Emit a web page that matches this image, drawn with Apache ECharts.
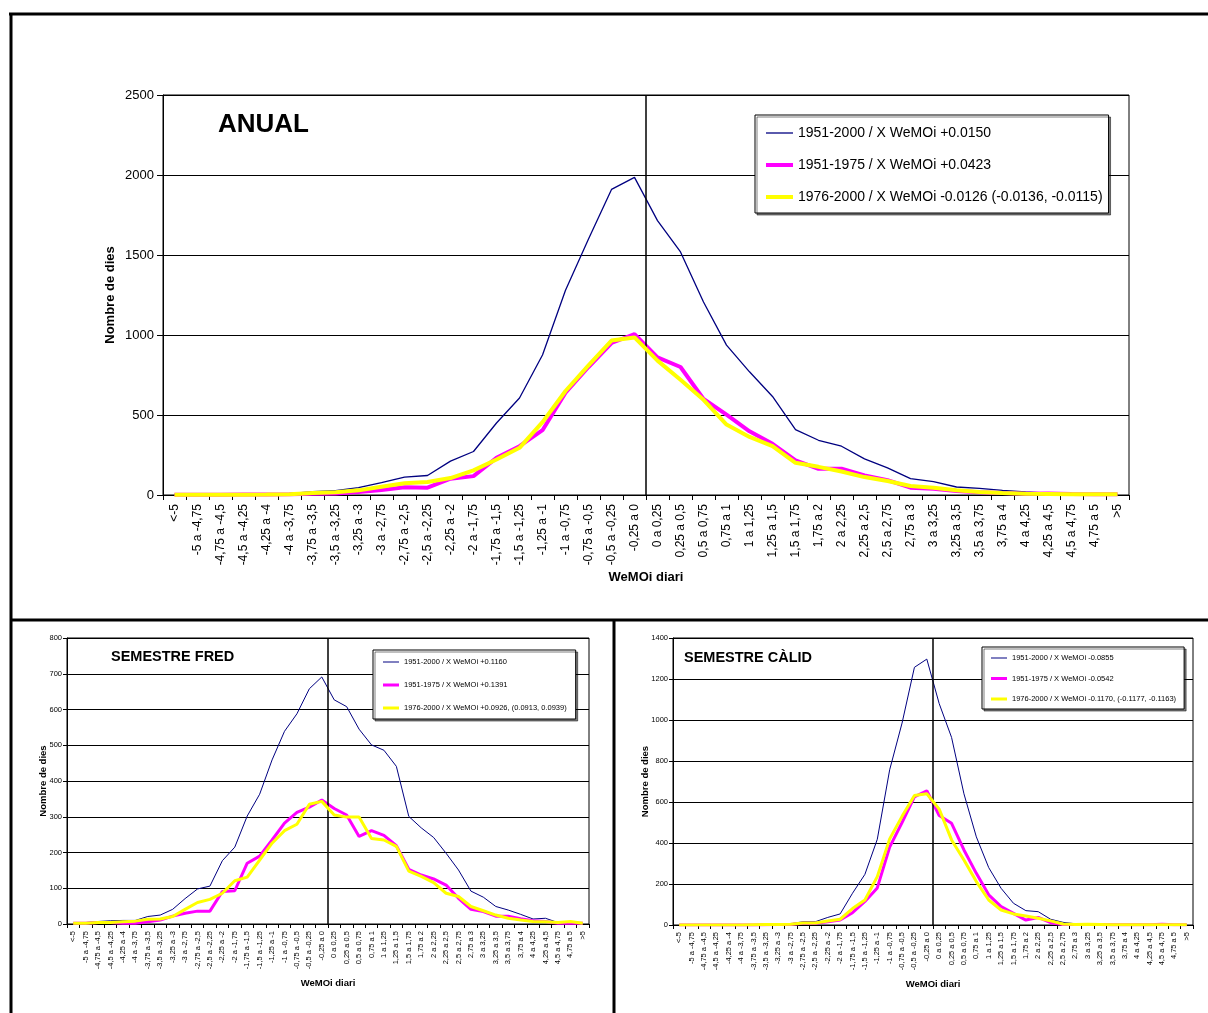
<!DOCTYPE html>
<html>
<head>
<meta charset="utf-8">
<title>WeMOi diari</title>
<script src="https://cdn.jsdelivr.net/npm/echarts@6/dist/echarts.min.js"></script>
<style>
  html, body { margin: 0; padding: 0; background: #fff; }
  #chart { width: 1208px; height: 1013px; }
</style>
</head>
<body>
<div id="chart"></div>
<script>
// Daily WeMOi class bins (x axis)
const categories = ['<-5', '-5 a -4,75', '-4,75 a -4,5', '-4,5 a -4,25', '-4,25 a -4', '-4 a -3,75',
  '-3,75 a -3,5', '-3,5 a -3,25', '-3,25 a -3', '-3 a -2,75', '-2,75 a -2,5', '-2,5 a -2,25',
  '-2,25 a -2', '-2 a -1,75', '-1,75 a -1,5', '-1,5 a -1,25', '-1,25 a -1', '-1 a -0,75',
  '-0,75 a -0,5', '-0,5 a -0,25', '-0,25 a 0', '0 a 0,25', '0,25 a 0,5', '0,5 a 0,75',
  '0,75 a 1', '1 a 1,25', '1,25 a 1,5', '1,5 a 1,75', '1,75 a 2', '2 a 2,25', '2,25 a 2,5',
  '2,5 a 2,75', '2,75 a 3', '3 a 3,25', '3,25 a 3,5', '3,5 a 3,75', '3,75 a 4', '4 a 4,25',
  '4,25 a 4,5', '4,5 a 4,75', '4,75 a 5', '>5'];

// First bin on the positive side: the zero line sits on its left edge
const zeroBin = categories.indexOf('0 a 0,25');

// ANUAL – number of days per bin
const anual1951_2000 = [3, 3, 4, 4, 5, 8, 21, 27, 46, 77, 112, 122, 212, 272, 450, 606, 875, 1280, 1600, 1910, 1985,
  1715, 1519, 1206, 937, 770, 616, 409, 342, 305, 226, 170, 102, 83, 50, 41, 29, 19, 12, 8, 6, 4];
const anual1951_1975 = [2, 2, 2, 3, 3, 4, 8, 10, 19, 31, 48, 46, 102, 118, 232, 305, 405, 640, 800, 950, 1005,
  860, 800, 600, 502, 398, 320, 216, 164, 164, 122, 93, 46, 39, 25, 17, 12, 8, 10, 6, 4, 4];
const anual1976_2000 = [2, 2, 2, 2, 3, 5, 13, 17, 29, 52, 73, 81, 106, 154, 222, 295, 455, 650, 810, 965, 985,
  840, 720, 595, 440, 363, 305, 201, 176, 147, 112, 87, 56, 46, 29, 19, 12, 8, 6, 4, 4, 4];

// SEMESTRE FRED – number of days per bin
const fred1951_2000 = [2, 4, 7, 9, 10, 10, 21, 25, 41, 71, 98, 106, 177, 215, 302, 363, 459, 539, 588, 658, 691,
  627, 608, 545, 501, 486, 441, 301, 269, 242, 198, 151, 92, 75, 49, 39, 27, 14, 16, 4, 3, 2];
const fred1951_1975 = [2, 2, 4, 4, 2, 2, 6, 11, 22, 30, 36, 36, 91, 93, 170, 190, 235, 282, 312, 327, 347,
  323, 305, 245, 261, 248, 219, 153, 137, 126, 109, 72, 41, 35, 22, 22, 15, 9, 7, 2, 2, 2];
const fred1976_2000 = [2, 2, 4, 4, 6, 8, 13, 14, 21, 41, 60, 69, 86, 121, 131, 179, 226, 261, 279, 335, 343,
  305, 299, 299, 239, 235, 217, 148, 133, 116, 86, 77, 49, 37, 25, 16, 11, 7, 6, 4, 7, 2];

// SEMESTRE CÀLID – number of days per bin
const calid1951_2000 = [0, 0, 0, 0, 0, 1, 2, 3, 5, 6, 16, 16, 37, 54, 155, 247, 418, 757, 985, 1257, 1297,
  1080, 915, 640, 430, 280, 179, 106, 70, 65, 28, 13, 6, 5, 3, 2, 1, 1, 1, 1, 0, 0];
const calid1951_1975 = [0, 0, 0, 0, 0, 0, 0, 1, 2, 2, 8, 8, 16, 24, 60, 115, 181, 380, 500, 625, 655,
  534, 496, 366, 252, 147, 90, 57, 24, 37, 11, 2, 2, 3, 2, 1, 1, 1, 1, 4, 1, 1];
const calid1976_2000 = [0, 0, 0, 0, 0, 0, 1, 2, 3, 4, 10, 10, 20, 28, 80, 122, 236, 420, 530, 632, 640,
  565, 415, 317, 212, 122, 73, 54, 44, 33, 20, 5, 3, 4, 3, 1, 1, 1, 1, 1, 1, 1];

// Legend texts
const namesAnual = ['1951-2000 / X WeMOi +0.0150', '1951-1975 / X WeMOi +0.0423',
  '1976-2000 / X WeMOi -0.0126 (-0.0136, -0.0115)'];
const namesFred = ['1951-2000 / X WeMOi +0.1160', '1951-1975 / X WeMOi +0.1391',
  '1976-2000 / X WeMOi +0.0926, (0.0913, 0.0939)'];
const namesCalid = ['1951-2000 / X WeMOi -0.0855', '1951-1975 / X WeMOi -0.0542',
  '1976-2000 / X WeMOi -0.1170, (-0.1177, -0.1163)'];

// Value axis ranges
const yAnual = { max: 2500, step: 500 };
const yFred = { max: 800, step: 100 };
const yCalid = { max: 1400, step: 200 };

const SANS = "'Liberation Sans', Arial, sans-serif";
const LINE_COLORS = ['#000080', '#FF00FF', '#FFFF00'];

const panels = [
  {
    title: 'ANUAL', titlePos: { left: 218, top: 112 }, titleSize: 26,
    grid: { left: 163, top: 95, width: 966, height: 400 },
    y: yAnual, data: [anual1951_2000, anual1951_1975, anual1976_2000], names: namesAnual,
    widths: [1.3, 4, 4],
    xLabelSize: 12, xLabelMargin: 9, xTick: 5, yLabelSize: 13, yLabelMargin: 9, yTick: 6,
    nameSize: 13, yNameGap: 46, xNameGap: 76,
    legend: { left: 755, top: 115, itemWidth: 27, itemHeight: 4, itemGap: 16, lineHeight: 16,
      fontSize: 14, padding: [10, 6, 8, 11] }
  },
  {
    title: 'SEMESTRE FRED', titlePos: { left: 111, top: 650 }, titleSize: 14.5,
    grid: { left: 67, top: 638, width: 522, height: 286 },
    y: yFred, data: [fred1951_2000, fred1951_1975, fred1976_2000], names: namesFred,
    widths: [1, 3, 3],
    xLabelSize: 7.5, xLabelMargin: 7, xTick: 4, yLabelSize: 7.5, yLabelMargin: 5, yTick: 4,
    nameSize: 9.5, yNameGap: 19, xNameGap: 54,
    legend: { left: 373, top: 650, itemWidth: 16, itemHeight: 3, itemGap: 12, lineHeight: 11,
      fontSize: 7.5, padding: [6.5, 9, 5.5, 10] }
  },
  {
    title: 'SEMESTRE CÀLID', titlePos: { left: 684, top: 651 }, titleSize: 14.5,
    grid: { left: 673, top: 638, width: 520, height: 287 },
    y: yCalid, data: [calid1951_2000, calid1951_1975, calid1976_2000], names: namesCalid,
    widths: [1, 3, 3],
    xLabelSize: 7.5, xLabelMargin: 7, xTick: 4, yLabelSize: 7.5, yLabelMargin: 5, yTick: 4,
    nameSize: 9.5, yNameGap: 23, xNameGap: 54,
    legend: { left: 982, top: 647, itemWidth: 16, itemHeight: 3, itemGap: 9.5, lineHeight: 11,
      fontSize: 7.5, padding: [5.5, 8, 4.5, 9] }
  }
];

// Legend sample: a thin bar for the thin series, a full bar for the thick ones
function legendIcon(p, k) {
  const w = p.legend.itemWidth, h = p.legend.itemHeight;
  const t = Math.min(h, p.widths[k]);
  const y0 = (h - t) / 2, y1 = y0 + t;
  return 'path://M0,0M0,' + y0 + 'H' + w + 'V' + y1 + 'H0Z' + 'M' + w + ',' + h;
}

const option = {
  animation: false,
  backgroundColor: '#fff',
  title: [], grid: [], xAxis: [], yAxis: [], series: [], legend: [],
  graphic: {
    elements: [
      { type: 'line', shape: { x1: 9, y1: 14, x2: 1208, y2: 14 }, style: { stroke: '#000', lineWidth: 3 }, silent: true },
      { type: 'line', shape: { x1: 11, y1: 13, x2: 11, y2: 1013 }, style: { stroke: '#000', lineWidth: 3 }, silent: true },
      { type: 'line', shape: { x1: 10, y1: 620, x2: 1208, y2: 620 }, style: { stroke: '#000', lineWidth: 3 }, silent: true },
      { type: 'line', shape: { x1: 614, y1: 620, x2: 614, y2: 1013 }, style: { stroke: '#000', lineWidth: 3 }, silent: true }
    ]
  }
};

panels.forEach((p, i) => {
  option.title.push({
    text: p.title, left: p.titlePos.left, top: p.titlePos.top, padding: 0,
    textStyle: { fontFamily: SANS, fontSize: p.titleSize, fontWeight: 'bold', color: '#000', lineHeight: p.titleSize }
  });
  option.grid.push(Object.assign({ show: true, borderColor: '#000', borderWidth: 1, backgroundColor: 'transparent' }, p.grid));
  option.xAxis.push({
    type: 'category', gridIndex: i, data: categories, boundaryGap: true,
    axisLine: { show: true, lineStyle: { color: '#000', width: 1 } },
    axisTick: { show: true, length: p.xTick, lineStyle: { color: '#000' } },
    axisLabel: { interval: 0, rotate: 90, color: '#000', fontFamily: SANS, fontSize: p.xLabelSize, margin: p.xLabelMargin },
    splitLine: { show: false },
    name: 'WeMOi diari', nameLocation: 'middle', nameGap: p.xNameGap, nameMoveOverlap: false,
    nameTextStyle: { fontFamily: SANS, fontSize: p.nameSize, fontWeight: 'bold', color: '#000' }
  });
  option.xAxis.push({ type: 'value', gridIndex: i, min: 0, max: categories.length, show: false });
  option.yAxis.push({
    type: 'value', gridIndex: i, min: 0, max: p.y.max, interval: p.y.step,
    axisLine: { show: true, lineStyle: { color: '#000', width: 1 } },
    axisTick: { show: true, length: p.yTick, lineStyle: { color: '#000' } },
    axisLabel: { color: '#000', fontFamily: SANS, fontSize: p.yLabelSize, margin: p.yLabelMargin,
      formatter: v => String(v) },
    splitLine: { show: true, lineStyle: { color: '#000', width: 1 } },
    name: 'Nombre de dies', nameLocation: 'middle', nameGap: p.yNameGap, nameRotate: 90, nameMoveOverlap: false,
    nameTextStyle: { fontFamily: SANS, fontSize: p.nameSize, fontWeight: 'bold', color: '#000' }
  });
  // zero line between the negative and positive bins
  option.series.push({
    type: 'line', xAxisIndex: 2 * i + 1, yAxisIndex: i, data: [], silent: true, z: 1,
    markLine: {
      silent: true, symbol: 'none', label: { show: false }, animation: false,
      lineStyle: { color: '#000', width: 1.5, type: 'solid' },
      data: [{ xAxis: zeroBin }]
    }
  });
  p.data.forEach((values, k) => {
    option.series.push({
      name: p.names[k], type: 'line', xAxisIndex: 2 * i, yAxisIndex: i, data: values,
      showSymbol: false, symbol: 'none', z: 3 + k,
      color: LINE_COLORS[k],
      lineStyle: { color: LINE_COLORS[k], width: p.widths[k] },
      emphasis: { disabled: true }
    });
  });
  option.legend.push({
    show: true, orient: 'vertical', left: p.legend.left, top: p.legend.top,
    itemWidth: p.legend.itemWidth, itemHeight: p.legend.itemHeight, itemGap: p.legend.itemGap,
    padding: p.legend.padding, selectedMode: false,
    backgroundColor: '#fff', borderColor: '#000', borderWidth: 1, borderRadius: 0,
    shadowColor: 'rgba(0,0,0,0.5)', shadowOffsetX: 2, shadowOffsetY: 2, shadowBlur: 0,
    textStyle: { fontFamily: SANS, fontSize: p.legend.fontSize, color: '#000', lineHeight: p.legend.lineHeight, padding: 0 },
    data: p.names.map((n, k) => ({ name: n, icon: legendIcon(p, k), itemStyle: { color: LINE_COLORS[k], borderWidth: 0 } }))
  });
});

const chart = echarts.init(document.getElementById('chart'), null, { renderer: 'canvas' });
chart.setOption(option);
</script>
</body>
</html>
